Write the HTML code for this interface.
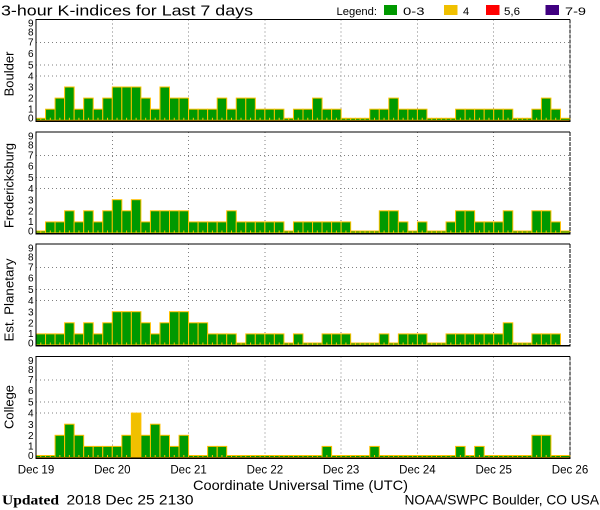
<!DOCTYPE html>
<html>
<head>
<meta charset="utf-8">
<style>
html,body{margin:0;padding:0;background:#fff;}
svg{display:block;font-family:"Liberation Sans",sans-serif;}
</style>
</head>
<body>
<svg width="600" height="510" viewBox="0 0 600 510" xmlns="http://www.w3.org/2000/svg">
<defs>
<rect id="a0" y="-2" width="9.54" height="2"/>
<rect id="a1" y="-11.1" width="9.54" height="11.1"/>
<rect id="a2" y="-22.2" width="9.54" height="22.2"/>
<rect id="a3" y="-33.3" width="9.54" height="33.3"/>
<rect id="a4" y="-44.4" width="9.54" height="44.4"/>
<g id="grid" stroke="#808080" stroke-dasharray="1 3" stroke-width="1" fill="none" shape-rendering="crispEdges">
<path d="M112.29 -101V0M188.57 -101V0M264.86 -101V0M341.14 -101V0M417.43 -101V0M493.71 -101V0"/>
<path d="M36 -77.7H570M36 -55.5H570M36 -44.4H570"/>
</g>
<path id="ticks" fill="none" stroke="#ffc000" stroke-width="1" d="M40.77 -2.5v2.5m9.536-2.5v2.5m9.536-2.5v2.5m9.536-2.5v2.5m9.536-2.5v2.5m9.536-2.5v2.5m9.536-2.5v2.5m9.536-2.5v2.5m9.536-2.5v2.5m9.536-2.5v2.5m9.536-2.5v2.5m9.536-2.5v2.5m9.536-2.5v2.5m9.536-2.5v2.5m9.536-2.5v2.5m9.536-2.5v2.5m9.536-2.5v2.5m9.536-2.5v2.5m9.536-2.5v2.5m9.536-2.5v2.5m9.536-2.5v2.5m9.536-2.5v2.5m9.536-2.5v2.5m9.536-2.5v2.5m9.536-2.5v2.5m9.536-2.5v2.5m9.536-2.5v2.5m9.536-2.5v2.5m9.536-2.5v2.5m9.536-2.5v2.5m9.536-2.5v2.5m9.536-2.5v2.5m9.536-2.5v2.5m9.536-2.5v2.5m9.536-2.5v2.5m9.536-2.5v2.5m9.536-2.5v2.5m9.536-2.5v2.5m9.536-2.5v2.5m9.536-2.5v2.5m9.536-2.5v2.5m9.536-2.5v2.5m9.536-2.5v2.5m9.536-2.5v2.5m9.536-2.5v2.5m9.536-2.5v2.5m9.536-2.5v2.5m9.536-2.5v2.5m9.536-2.5v2.5m9.536-2.5v2.5m9.536-2.5v2.5m9.536-2.5v2.5m9.536-2.5v2.5m9.536-2.5v2.5m9.536-2.5v2.5"/>
<g id="frame" shape-rendering="crispEdges">
<path d="M36 0V-101H570" stroke="#000" stroke-width="1" fill="none"/>
<path d="M570 -101V0" stroke="#000" stroke-width="1" stroke-dasharray="4 1" fill="none"/>
<rect x="35.5" y="0" width="535" height="1.6" fill="#000"/>
</g>
</defs>

<!-- Title and legend -->
<text x="1" y="15.5" font-size="15" textLength="252" lengthAdjust="spacingAndGlyphs" fill="#000">3-hour K-indices for Last 7 days</text>
<text x="336.5" y="15" font-size="11" textLength="40.5" lengthAdjust="spacingAndGlyphs">Legend:</text>
<rect x="384" y="5" width="13" height="10" fill="#009900"/>
<text x="403" y="15" font-size="11" textLength="21.5" lengthAdjust="spacingAndGlyphs">0-3</text>
<rect x="444" y="5" width="13.5" height="10" fill="#f0c000"/>
<text x="463" y="15" font-size="11">4</text>
<rect x="486" y="5" width="13.5" height="10" fill="#ff0000"/>
<text x="504" y="15" font-size="11" textLength="16" lengthAdjust="spacingAndGlyphs">5,6</text>
<rect x="545.5" y="5" width="13.5" height="10" fill="#400080"/>
<text x="565" y="15" font-size="11" textLength="21" lengthAdjust="spacingAndGlyphs">7-9</text>

<!-- Panel 1: Boulder -->
<g transform="translate(0,120.3)">
<use href="#grid"/>
<g fill="#009900" stroke="#ffc000" stroke-width="1">
<use href="#a0" x="36"/><use href="#a1" x="45.54"/><use href="#a2" x="55.07"/><use href="#a3" x="64.61"/><use href="#a1" x="74.14"/><use href="#a2" x="83.68"/><use href="#a1" x="93.21"/><use href="#a2" x="102.75"/>
<use href="#a3" x="112.29"/><use href="#a3" x="121.82"/><use href="#a3" x="131.36"/><use href="#a2" x="140.89"/><use href="#a1" x="150.43"/><use href="#a3" x="159.96"/><use href="#a2" x="169.5"/><use href="#a2" x="179.04"/>
<use href="#a1" x="188.57"/><use href="#a1" x="198.11"/><use href="#a1" x="207.64"/><use href="#a2" x="217.18"/><use href="#a1" x="226.71"/><use href="#a2" x="236.25"/><use href="#a2" x="245.79"/><use href="#a1" x="255.32"/>
<use href="#a1" x="264.86"/><use href="#a1" x="274.39"/><use href="#a0" x="283.93"/><use href="#a1" x="293.46"/><use href="#a1" x="303"/><use href="#a2" x="312.54"/><use href="#a1" x="322.07"/><use href="#a1" x="331.61"/>
<use href="#a0" x="341.14"/><use href="#a0" x="350.68"/><use href="#a0" x="360.21"/><use href="#a1" x="369.75"/><use href="#a1" x="379.29"/><use href="#a2" x="388.82"/><use href="#a1" x="398.36"/><use href="#a1" x="407.89"/>
<use href="#a1" x="417.43"/><use href="#a0" x="426.96"/><use href="#a0" x="436.5"/><use href="#a0" x="446.04"/><use href="#a1" x="455.57"/><use href="#a1" x="465.11"/><use href="#a1" x="474.64"/><use href="#a1" x="484.18"/>
<use href="#a1" x="493.71"/><use href="#a1" x="503.25"/><use href="#a0" x="512.79"/><use href="#a0" x="522.32"/><use href="#a1" x="531.86"/><use href="#a2" x="541.39"/><use href="#a1" x="550.93"/><use href="#a0" x="560.46"/>
</g>
<use href="#ticks"/>
<use href="#frame"/>
<g font-size="10" text-anchor="end">
<text x="33.5" y="1.3">0</text><text x="33.5" y="-8">1</text><text x="33.5" y="-18.7">2</text><text x="33.5" y="-29.7">3</text><text x="33.5" y="-41">4</text><text x="33.5" y="-52">5</text><text x="33.5" y="-63.3">6</text><text x="33.5" y="-74.7">7</text><text x="33.5" y="-84.7">8</text><text x="33.5" y="-93.7">9</text>
</g>
</g>
<text transform="translate(13.5,74) rotate(-90)" font-size="13" text-anchor="middle">Boulder</text>

<!-- Panel 2: Fredericksburg -->
<g transform="translate(0,233)">
<use href="#grid"/>
<g fill="#009900" stroke="#ffc000" stroke-width="1">
<use href="#a0" x="36"/><use href="#a1" x="45.54"/><use href="#a1" x="55.07"/><use href="#a2" x="64.61"/><use href="#a1" x="74.14"/><use href="#a2" x="83.68"/><use href="#a1" x="93.21"/><use href="#a2" x="102.75"/>
<use href="#a3" x="112.29"/><use href="#a2" x="121.82"/><use href="#a3" x="131.36"/><use href="#a1" x="140.89"/><use href="#a2" x="150.43"/><use href="#a2" x="159.96"/><use href="#a2" x="169.5"/><use href="#a2" x="179.04"/>
<use href="#a1" x="188.57"/><use href="#a1" x="198.11"/><use href="#a1" x="207.64"/><use href="#a1" x="217.18"/><use href="#a2" x="226.71"/><use href="#a1" x="236.25"/><use href="#a1" x="245.79"/><use href="#a1" x="255.32"/>
<use href="#a1" x="264.86"/><use href="#a1" x="274.39"/><use href="#a0" x="283.93"/><use href="#a1" x="293.46"/><use href="#a1" x="303"/><use href="#a1" x="312.54"/><use href="#a1" x="322.07"/><use href="#a1" x="331.61"/>
<use href="#a1" x="341.14"/><use href="#a0" x="350.68"/><use href="#a0" x="360.21"/><use href="#a0" x="369.75"/><use href="#a2" x="379.29"/><use href="#a2" x="388.82"/><use href="#a1" x="398.36"/><use href="#a0" x="407.89"/>
<use href="#a1" x="417.43"/><use href="#a0" x="426.96"/><use href="#a0" x="436.5"/><use href="#a1" x="446.04"/><use href="#a2" x="455.57"/><use href="#a2" x="465.11"/><use href="#a1" x="474.64"/><use href="#a1" x="484.18"/>
<use href="#a1" x="493.71"/><use href="#a2" x="503.25"/><use href="#a0" x="512.79"/><use href="#a0" x="522.32"/><use href="#a2" x="531.86"/><use href="#a2" x="541.39"/><use href="#a1" x="550.93"/><use href="#a0" x="560.46"/>
</g>
<use href="#ticks"/>
<use href="#frame"/>
<g font-size="10" text-anchor="end">
<text x="33.5" y="1.3">0</text><text x="33.5" y="-8">1</text><text x="33.5" y="-18.7">2</text><text x="33.5" y="-29.7">3</text><text x="33.5" y="-41">4</text><text x="33.5" y="-52">5</text><text x="33.5" y="-63.3">6</text><text x="33.5" y="-74.7">7</text><text x="33.5" y="-84.7">8</text><text x="33.5" y="-93.7">9</text>
</g>
</g>
<text transform="translate(13.5,185.5) rotate(-90)" font-size="13" text-anchor="middle" textLength="85" lengthAdjust="spacingAndGlyphs">Fredericksburg</text>

<!-- Panel 3: Est. Planetary -->
<g transform="translate(0,345)">
<use href="#grid"/>
<g fill="#009900" stroke="#ffc000" stroke-width="1">
<use href="#a1" x="36"/><use href="#a1" x="45.54"/><use href="#a1" x="55.07"/><use href="#a2" x="64.61"/><use href="#a1" x="74.14"/><use href="#a2" x="83.68"/><use href="#a1" x="93.21"/><use href="#a2" x="102.75"/>
<use href="#a3" x="112.29"/><use href="#a3" x="121.82"/><use href="#a3" x="131.36"/><use href="#a2" x="140.89"/><use href="#a1" x="150.43"/><use href="#a2" x="159.96"/><use href="#a3" x="169.5"/><use href="#a3" x="179.04"/>
<use href="#a2" x="188.57"/><use href="#a2" x="198.11"/><use href="#a1" x="207.64"/><use href="#a1" x="217.18"/><use href="#a1" x="226.71"/><use href="#a0" x="236.25"/><use href="#a1" x="245.79"/><use href="#a1" x="255.32"/>
<use href="#a1" x="264.86"/><use href="#a1" x="274.39"/><use href="#a0" x="283.93"/><use href="#a1" x="293.46"/><use href="#a0" x="303"/><use href="#a0" x="312.54"/><use href="#a1" x="322.07"/><use href="#a1" x="331.61"/>
<use href="#a1" x="341.14"/><use href="#a0" x="350.68"/><use href="#a0" x="360.21"/><use href="#a0" x="369.75"/><use href="#a1" x="379.29"/><use href="#a0" x="388.82"/><use href="#a1" x="398.36"/><use href="#a1" x="407.89"/>
<use href="#a1" x="417.43"/><use href="#a0" x="426.96"/><use href="#a0" x="436.5"/><use href="#a1" x="446.04"/><use href="#a1" x="455.57"/><use href="#a1" x="465.11"/><use href="#a1" x="474.64"/><use href="#a1" x="484.18"/>
<use href="#a1" x="493.71"/><use href="#a2" x="503.25"/><use href="#a0" x="512.79"/><use href="#a0" x="522.32"/><use href="#a1" x="531.86"/><use href="#a1" x="541.39"/><use href="#a1" x="550.93"/>
</g>
<use href="#ticks"/>
<use href="#frame"/>
<g font-size="10" text-anchor="end">
<text x="33.5" y="1.3">0</text><text x="33.5" y="-8">1</text><text x="33.5" y="-18.7">2</text><text x="33.5" y="-29.7">3</text><text x="33.5" y="-41">4</text><text x="33.5" y="-52">5</text><text x="33.5" y="-63.3">6</text><text x="33.5" y="-74.7">7</text><text x="33.5" y="-84.7">8</text><text x="33.5" y="-93.7">9</text>
</g>
</g>
<text transform="translate(13.5,300) rotate(-90)" font-size="13" text-anchor="middle" textLength="83" lengthAdjust="spacingAndGlyphs">Est. Planetary</text>

<!-- Panel 4: College -->
<g transform="translate(0,457.5)">
<use href="#grid"/>
<g fill="#009900" stroke="#ffc000" stroke-width="1">
<use href="#a0" x="36"/><use href="#a0" x="45.54"/><use href="#a2" x="55.07"/><use href="#a3" x="64.61"/><use href="#a2" x="74.14"/><use href="#a1" x="83.68"/><use href="#a1" x="93.21"/><use href="#a1" x="102.75"/>
<use href="#a1" x="112.29"/><use href="#a2" x="121.82"/><use href="#a4" x="131.36" fill="#f0c000"/><use href="#a2" x="140.89"/><use href="#a3" x="150.43"/><use href="#a2" x="159.96"/><use href="#a1" x="169.5"/><use href="#a2" x="179.04"/>
<use href="#a0" x="188.57"/><use href="#a0" x="198.11"/><use href="#a1" x="207.64"/><use href="#a1" x="217.18"/><use href="#a0" x="226.71"/><use href="#a0" x="236.25"/><use href="#a0" x="245.79"/><use href="#a0" x="255.32"/>
<use href="#a0" x="264.86"/><use href="#a0" x="274.39"/><use href="#a0" x="283.93"/><use href="#a0" x="293.46"/><use href="#a0" x="303"/><use href="#a0" x="312.54"/><use href="#a1" x="322.07"/><use href="#a0" x="331.61"/>
<use href="#a0" x="341.14"/><use href="#a0" x="350.68"/><use href="#a0" x="360.21"/><use href="#a1" x="369.75"/><use href="#a0" x="379.29"/><use href="#a0" x="388.82"/><use href="#a0" x="398.36"/><use href="#a0" x="407.89"/>
<use href="#a0" x="417.43"/><use href="#a0" x="426.96"/><use href="#a0" x="436.5"/><use href="#a0" x="446.04"/><use href="#a1" x="455.57"/><use href="#a0" x="465.11"/><use href="#a1" x="474.64"/><use href="#a0" x="484.18"/>
<use href="#a0" x="493.71"/><use href="#a0" x="503.25"/><use href="#a0" x="512.79"/><use href="#a0" x="522.32"/><use href="#a2" x="531.86"/><use href="#a2" x="541.39"/><use href="#a0" x="550.93"/><use href="#a0" x="560.46"/>
</g>
<use href="#ticks"/>
<use href="#frame"/>
<g font-size="10" text-anchor="end">
<text x="33.5" y="1.3">0</text><text x="33.5" y="-8">1</text><text x="33.5" y="-18.7">2</text><text x="33.5" y="-29.7">3</text><text x="33.5" y="-41">4</text><text x="33.5" y="-52">5</text><text x="33.5" y="-63.3">6</text><text x="33.5" y="-74.7">7</text><text x="33.5" y="-84.7">8</text><text x="33.5" y="-93.7">9</text>
</g>
</g>
<text transform="translate(13.5,407) rotate(-90)" font-size="13" text-anchor="middle">College</text>

<!-- X tick labels -->
<g font-size="11.5" text-anchor="middle">
<text x="36" y="473.5">Dec 19</text>
<text x="112.3" y="473.5">Dec 20</text>
<text x="188.6" y="473.5">Dec 21</text>
<text x="264.9" y="473.5">Dec 22</text>
<text x="341.1" y="473.5">Dec 23</text>
<text x="417.4" y="473.5">Dec 24</text>
<text x="493.7" y="473.5">Dec 25</text>
<text x="570" y="473.5">Dec 26</text>
</g>
<text x="193" y="490" font-size="14" textLength="215" lengthAdjust="spacingAndGlyphs">Coordinate Universal Time (UTC)</text>

<!-- Footer -->
<text x="2" y="504.5" font-size="14" font-weight="bold" font-family="Liberation Serif, serif" textLength="57" lengthAdjust="spacingAndGlyphs">Updated</text>
<text x="66.5" y="504.5" font-size="13.5" textLength="127" lengthAdjust="spacingAndGlyphs">2018 Dec 25 2130</text>
<text x="404.5" y="504.5" font-size="14" textLength="194.5" lengthAdjust="spacingAndGlyphs">NOAA/SWPC Boulder, CO USA</text>
</svg>
</body>
</html>
